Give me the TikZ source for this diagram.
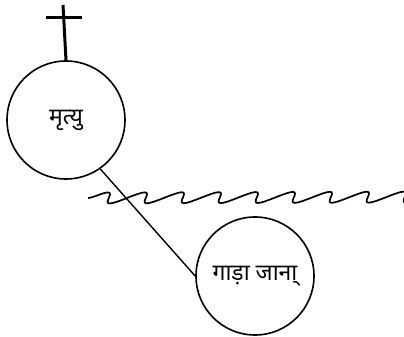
\documentclass[tikz,border=0pt]{standalone}
\usepackage{fontspec}
\newfontfamily\devfont[Script=Devanagari]{Noto Sans}
\usetikzlibrary{decorations.pathmorphing}

\begin{document}
\begin{tikzpicture}[
    x=1pt, y=1pt,
    font={\fontsize{23}{26}\selectfont\devfont},
    ring/.style={draw, circle, line width=1.6pt, minimum size=118pt, inner sep=0pt},
    wave/.style={line width=1.7pt, decorate,
      decoration={snake, amplitude=5.5pt, segment length=37pt,
        transform={xslant=1.5}}}
  ]
    \useasboundingbox (0,0) rectangle (404,337);
    \node[ring] (death) at (66,217) {मृत्यु};
    \node[ring] (burial) at (255,61) {गाड़ा जाना्};
    % cross on top
    \coordinate (crosstop) at (63,332);
    \coordinate (barleft) at (46,319);
    \coordinate (barright) at (82,319);
    \draw[line width=3pt] (death.north) -- (crosstop);
    \draw[line width=3pt] (barleft) -- (barright);
    % wavy line
    \coordinate (wavestart) at (88,139);
    \coordinate (waveend) at (430,140);
    \draw[wave] (wavestart) -- (waveend);
    \draw[line width=1.4pt] (death.-55) -- (burial.west);
  \end{tikzpicture}
\end{document}
